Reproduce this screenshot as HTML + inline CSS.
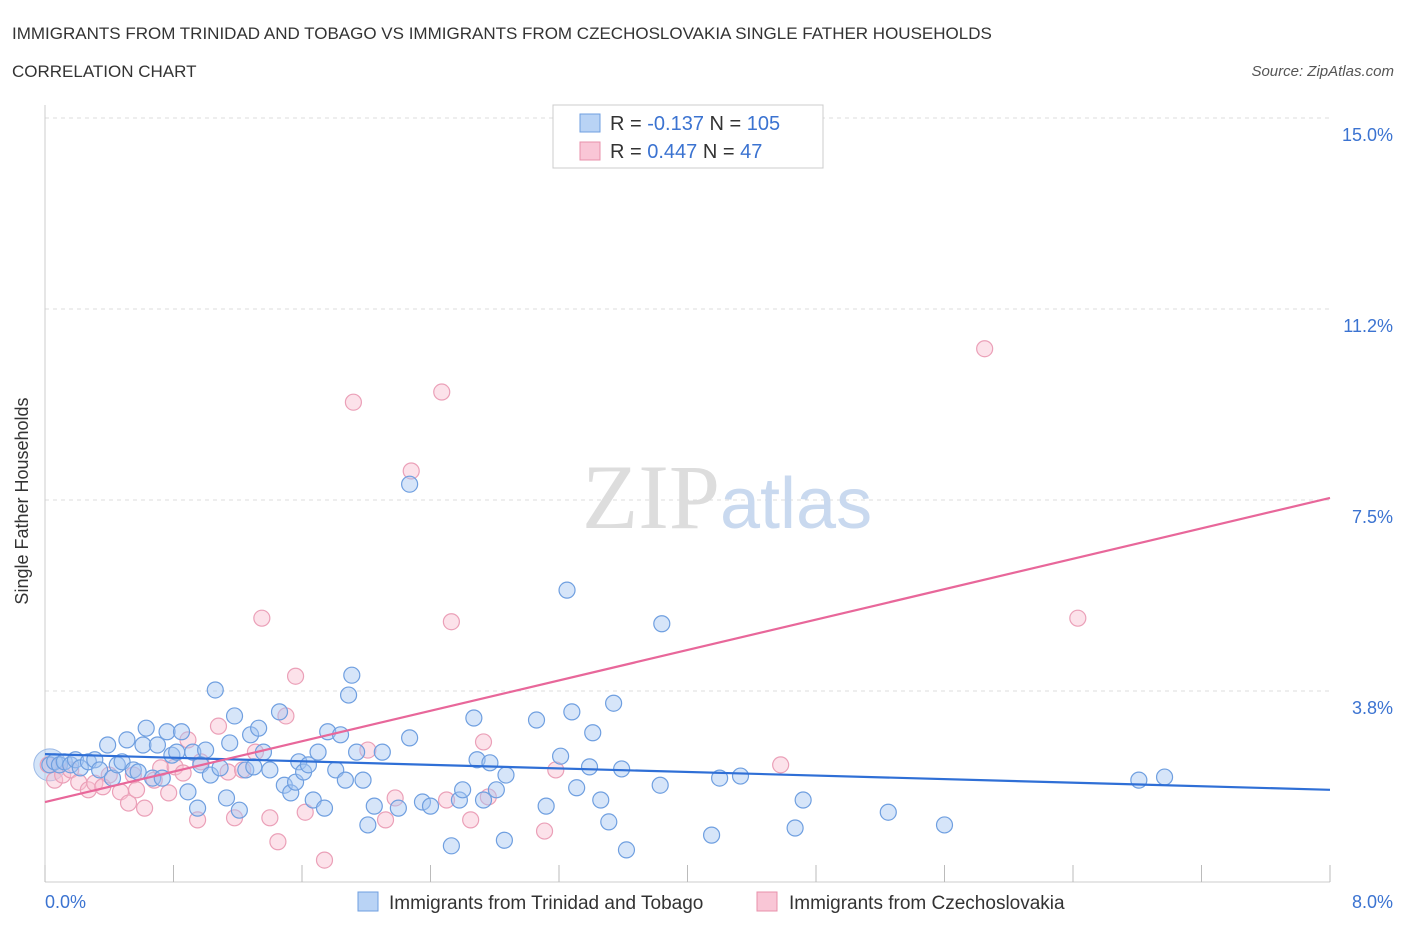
<!DOCTYPE html>
<html><head><meta charset="utf-8"><style>
body{margin:0;background:#fff;font-family:"Liberation Sans",sans-serif;}
</style></head><body>
<svg width="1406" height="930" xmlns="http://www.w3.org/2000/svg">
<text x="12" y="39" font-size="17" fill="#333">IMMIGRANTS FROM TRINIDAD AND TOBAGO VS IMMIGRANTS FROM CZECHOSLOVAKIA SINGLE FATHER HOUSEHOLDS</text>
<text x="12" y="77" font-size="17" fill="#333">CORRELATION CHART</text>
<text x="1394" y="76" font-size="15" fill="#555" font-style="italic" text-anchor="end">Source: ZipAtlas.com</text>
<g id="grid"></g>
<text x="720" y="528" font-size="92" fill="#ddd" text-anchor="end" font-family="Liberation Serif">ZIP</text>
<text x="720" y="528" font-size="72" fill="#c9d9ef">atlas</text>
<line x1="45" y1="105" x2="45" y2="882" stroke="#ccc"/>
<line x1="45" y1="882" x2="1330" y2="882" stroke="#ccc"/>
<g id="ticks"></g>
<g id="pts"></g>
<g id="trend"></g>
<text x="22" y="495" font-size="18" fill="#333" text-anchor="middle" transform="rotate(-90 28 495)">Single Father Households</text>
<text x="45" y="908" font-size="18" fill="#3b73d1">0.0%</text>
<text x="1393" y="908" font-size="18" fill="#3b73d1" text-anchor="end">8.0%</text>
<g>
<rect x="553" y="105" width="270" height="63" fill="#fff" stroke="#ccc"/>
<rect x="580" y="114" width="20" height="18" fill="#b9d3f5" stroke="#6f9fe0"/>
<rect x="580" y="142" width="20" height="18" fill="#f9c6d6" stroke="#e890ab"/>
<text x="610" y="130" font-size="20" fill="#333">R = <tspan fill="#3b73d1">-0.137</tspan>   N = <tspan fill="#3b73d1">105</tspan></text>
<text x="610" y="158" font-size="20" fill="#333">R =  <tspan fill="#3b73d1">0.447</tspan>   N =   <tspan fill="#3b73d1">47</tspan></text>
</g>
<g>
<rect x="358" y="892" width="20" height="19" fill="#b9d3f5" stroke="#6f9fe0"/>
<text x="389" y="909" font-size="19" fill="#333">Immigrants from Trinidad and Tobago</text>
<rect x="757" y="892" width="20" height="19" fill="#f9c6d6" stroke="#e890ab"/>
<text x="789" y="909" font-size="19" fill="#333">Immigrants from Czechoslovakia</text>
</g>
</svg>
<script>
const yTicks=[3.75,7.5,11.25,15];
const yTickLabels=["3.8%","7.5%","11.2%","15.0%"];
const xTickCount=10;
const blueX=[0.03,0.06,0.09,0.12,0.16,0.19,0.22,0.27,0.31,0.34,0.39,0.42,0.45,0.48,0.51,0.55,0.58,0.61,0.63,0.67,0.70,0.73,0.76,0.79,0.82,0.85,0.89,0.92,0.95,0.97,1.00,1.03,1.06,1.09,1.13,1.15,1.18,1.21,1.25,1.28,1.30,1.33,1.36,1.40,1.46,1.49,1.53,1.56,1.58,1.61,1.64,1.67,1.70,1.74,1.76,1.81,1.84,1.87,1.89,1.91,1.94,1.98,2.01,2.05,2.10,2.20,2.27,2.27,2.35,2.40,2.53,2.58,2.60,2.67,2.69,2.73,2.77,2.81,2.86,2.87,3.06,3.12,3.21,3.25,3.28,3.31,3.39,3.41,3.46,3.51,3.54,3.59,3.62,3.83,3.84,4.15,4.20,4.33,4.67,4.72,5.25,5.60,6.81,6.97];
const blueY=[2.30,2.36,2.30,2.36,2.30,2.40,2.24,2.36,2.40,2.20,2.69,2.04,2.30,2.36,2.79,2.20,2.16,2.69,3.02,2.04,2.69,2.04,2.95,2.49,2.55,2.95,1.77,2.55,1.45,2.30,2.59,2.10,3.77,2.24,1.65,2.73,3.26,1.41,2.20,2.89,2.26,3.02,2.55,2.20,3.34,1.90,1.75,1.96,2.36,2.16,2.30,1.61,2.55,1.45,2.95,2.20,2.89,2.00,3.67,4.06,2.55,2.00,1.12,1.49,2.55,1.45,2.83,7.81,1.57,1.49,0.71,1.61,1.81,3.22,2.40,1.61,2.34,1.81,0.82,2.10,3.18,1.49,2.47,5.73,3.34,1.85,2.26,2.93,1.61,1.18,3.51,2.22,0.63,1.90,5.07,0.92,2.04,2.08,1.06,1.61,1.37,1.12,2.00,2.06];
const pinkX=[0.02,0.06,0.11,0.16,0.21,0.27,0.31,0.36,0.40,0.47,0.52,0.55,0.57,0.62,0.68,0.72,0.77,0.81,0.86,0.89,0.95,0.97,1.08,1.14,1.18,1.23,1.31,1.35,1.40,1.45,1.50,1.56,1.62,1.74,1.92,2.01,2.12,2.18,2.28,2.47,2.53,2.50,2.65,2.73,2.76,3.11,3.18,4.58,5.85,6.43];
const pinkY=[2.30,2.00,2.10,2.20,1.96,1.81,1.94,1.87,2.10,1.77,1.55,2.10,1.81,1.45,2.00,2.24,1.75,2.26,2.14,2.79,1.22,2.36,3.06,2.16,1.26,2.20,2.55,5.18,1.26,0.79,3.26,4.04,1.37,0.43,9.42,2.59,1.22,1.65,8.07,9.62,5.11,1.61,1.22,2.75,1.67,1.00,2.20,2.30,10.47,5.18];
const blueTrend=[2.51,1.81];
const pinkTrend=[1.57,7.54];
const xMax=8, yMax=15;
const X=v=>45+v*(1285/xMax), Y=v=>882-v*(764/yMax);
const NS="http://www.w3.org/2000/svg";
function mk(t,a,p){const e=document.createElementNS(NS,t);for(const k in a)e.setAttribute(k,a[k]);p.appendChild(e);return e;}
const grid=document.getElementById('grid'),ticks=document.getElementById('ticks'),pts=document.getElementById('pts'),trend=document.getElementById('trend');
yTicks.forEach((v,i)=>{
 const l=mk('line',{x1:45,x2:1330,y1:Y(v),y2:Y(v),stroke:'#ddd','stroke-dasharray':'4,4'},grid);
 
 
 const t=mk('text',{x:1393,y:Y(v)+23,'font-size':18,fill:'#3b73d1','text-anchor':'end'},ticks);
 t.textContent=yTickLabels[i];
 
 
});
for(let i=0;i<=xTickCount;i++){
 const x=X(i*xMax/xTickCount);
 const l=mk('line',{x1:x,x2:x,y1:865,y2:882,stroke:'#bbb'},ticks);
 
 
}
mk('circle',{cx:X(0.03),cy:Y(2.3),r:16,fill:'rgba(160,196,240,0.45)',stroke:'#9bb9e6'},pts);
pinkX.forEach((v,i)=>{
 const c=mk('circle',{cx:X(v),cy:Y(pinkY[i]),r:8,fill:'rgba(248,190,208,0.45)',stroke:'#eba0b8','stroke-width':1.2},pts);
 
 
});
blueX.forEach((v,i)=>{
 const c=mk('circle',{cx:X(v),cy:Y(blueY[i]),r:8,fill:'rgba(165,198,242,0.45)',stroke:'#6f9fe0','stroke-width':1.2},pts);
 
 
});
const bt=mk('line',{x1:X(0),y1:Y(blueTrend[0]),x2:X(xMax),y2:Y(blueTrend[1]),stroke:'#2f6fd6','stroke-width':2.2},trend);


const pt=mk('line',{x1:X(0),y1:Y(pinkTrend[0]),x2:X(xMax),y2:Y(pinkTrend[1]),stroke:'#e8679a','stroke-width':2.2},trend);


</script>
</body></html>
